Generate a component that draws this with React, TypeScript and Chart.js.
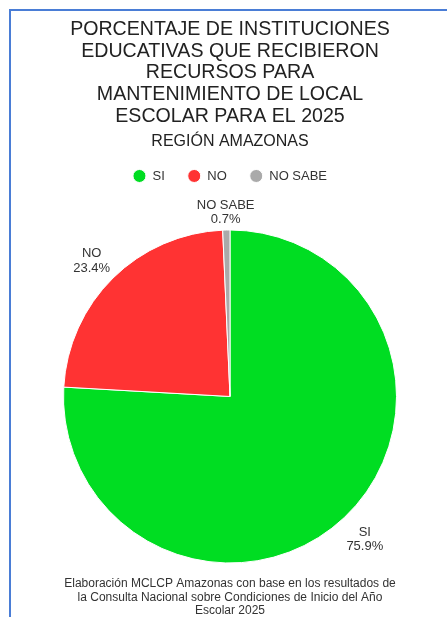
import React, { useEffect, useRef } from "react";
import { Chart, registerables } from "chart.js";

Chart.register(...registerables);

const categories = ["SI", "NO", "NO SABE"];
const percentages = [75.9, 23.4, 0.7];
const sliceColors = ["#00DD22", "#FF3333", "#AAAAAA"];
const titleLines = [
  "PORCENTAJE DE INSTITUCIONES",
  "EDUCATIVAS QUE RECIBIERON",
  "RECURSOS PARA",
  "MANTENIMIENTO DE LOCAL",
  "ESCOLAR PARA EL 2025",
];
const subtitleText = "REGIÓN AMAZONAS";
const footerLines = [
  "Elaboración MCLCP Amazonas con base en los resultados de",
  "la Consulta Nacional sobre Condiciones de Inicio del Año",
  "Escolar 2025",
];

const FONT = "'Liberation Sans', Arial, sans-serif";

const outsideLabels = {
  id: "outsideLabels",
  afterDatasetsDraw(chart: any) {
    const ctx = chart.ctx;
    const meta = chart.getDatasetMeta(0);
    const values: number[] = chart.data.datasets[0].data;
    const total = values.reduce((a, b) => a + b, 0);
    const fontSize = 13;
    const lh = fontSize * 1.1;
    const pad = 4;
    const offset = 2;
    const shiftY = 2.5;
    ctx.save();
    ctx.font = `${fontSize}px ${FONT}`;
    ctx.fillStyle = "#333333";
    ctx.textAlign = "center";
    ctx.textBaseline = "middle";
    meta.data.forEach((arc: any, i: number) => {
      const p = arc.getProps(["x", "y", "startAngle", "endAngle", "outerRadius"], true);
      const mid = (p.startAngle + p.endAngle) / 2;
      const vx = Math.cos(mid);
      const vy = Math.sin(mid);
      const lines = [String(chart.data.labels[i]), ((values[i] / total) * 100).toFixed(1) + "%"];
      const w = Math.max(...lines.map((l) => ctx.measureText(l).width)) + pad * 2;
      const h = lines.length * lh + pad * 2;
      const vs = 1 / Math.max(Math.abs(vx), Math.abs(vy));
      const px = p.x + vx * (p.outerRadius + offset);
      const py = p.y + vy * (p.outerRadius + offset);
      const cx = px + (w / 2) * vx * vs * 0.9;
      const cy = py + (h / 2) * vy * vs + shiftY;
      lines.forEach((l, j) => {
        ctx.fillText(l, cx, cy - h / 2 + pad + lh * (j + 0.5));
      });
    });
    ctx.restore();
  },
};

const footerPlugin = {
  id: "footerText",
  afterDraw(chart: any) {
    const ctx = chart.ctx;
    const lh = 13.2;
    ctx.save();
    ctx.font = `12px ${FONT}`;
    ctx.fillStyle = "#333333";
    ctx.textAlign = "center";
    ctx.textBaseline = "middle";
    const cx = (chart.chartArea.left + chart.chartArea.right) / 2;
    const y0 = chart.height - 33;
    footerLines.forEach((l, i) => ctx.fillText(l, cx, y0 + i * lh));
    ctx.restore();
  },
};

export default function App() {
  const ref = useRef<HTMLCanvasElement | null>(null);
  useEffect(() => {
    if (!ref.current) return;
    Chart.defaults.font.family = FONT;
    const chart = new Chart(ref.current, {
      type: "pie",
      data: {
        labels: categories,
        datasets: [
          {
            data: percentages,
            backgroundColor: sliceColors,
            borderColor: "#ffffff",
            borderWidth: 1,
          },
        ],
      },
      options: {
        animation: false,
        responsive: false,
        devicePixelRatio: 1,
        layout: { padding: { top: 0, left: 52, right: 50, bottom: 16.5 } },
        plugins: {
          title: {
            display: true,
            text: titleLines,
            color: "#222222",
            font: { size: 19.6, weight: "normal", lineHeight: 1.11, family: FONT },
            padding: { top: 7.5, bottom: 4.5 },
          },
          subtitle: {
            display: true,
            text: subtitleText,
            color: "#222222",
            font: { size: 16, weight: "normal", lineHeight: 1.2, family: FONT },
            padding: { top: 0.5, bottom: -5 },
          },
          legend: {
            display: true,
            position: "top",
            labels: {
              usePointStyle: true,
              pointStyle: "circle",
              boxWidth: 13,
              boxHeight: 9.2,
              padding: 23,
              color: "#333333",
              font: { size: 13, family: FONT },
            },
          },
          tooltip: { enabled: false },
        },
      },
      plugins: [outsideLabels, footerPlugin],
    });
    return () => chart.destroy();
  }, []);

  return (
    <div
      style={{
        position: "fixed",
        left: 0,
        top: 0,
        width: 447,
        height: 617,
        overflow: "hidden",
        background: "#ffffff",
      }}
    >
      <div
        style={{
          position: "absolute",
          left: 9,
          top: 9,
          width: 480,
          height: 660,
          border: "2px solid #4A7DD6",
          boxSizing: "border-box",
        }}
      />
      <canvas
        ref={ref}
        width={436}
        height={606}
        style={{ position: "absolute", left: 11, top: 11, width: 436, height: 606 }}
      />
    </div>
  );
}
